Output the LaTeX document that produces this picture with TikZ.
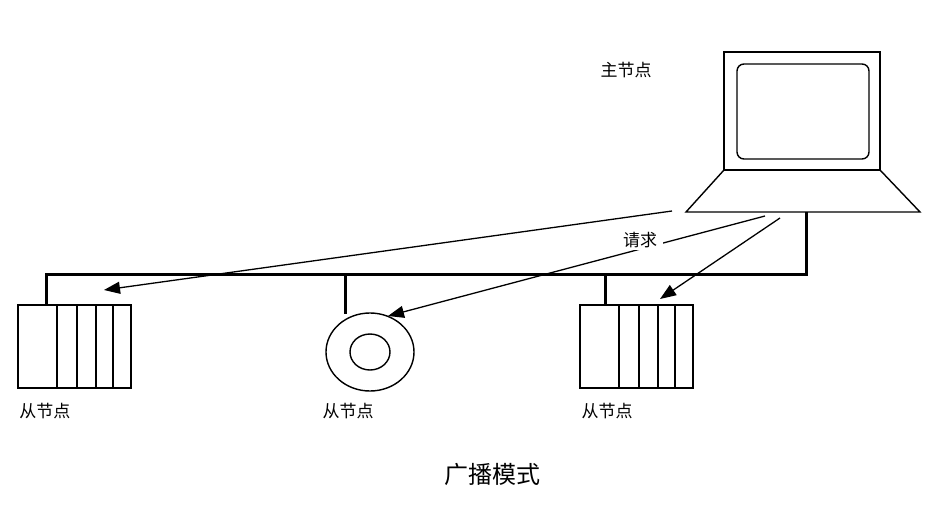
\documentclass[tikz,border=0pt]{standalone}
\usepackage{fontspec}
\newfontfamily\cjk{Noto Sans CJK SC}
\usetikzlibrary{arrows.meta}
\begin{document}
\begin{tikzpicture}[x=1pt,y=-1pt,
  line/.style={line width=1.4pt},
  bus/.style={line width=3pt},
  arr/.style={line width=1.3pt,-{Triangle[length=16pt,width=12pt]}},
  lbl/.style={font=\cjk\fontsize{17}{20}\selectfont,inner sep=2pt}]
\useasboundingbox (0,0) rectangle (950,527);
% laptop
\draw[line] (724,52) rectangle (880,170);
\draw[line,rounded corners=7pt] (737,64) rectangle (869,159);
\draw[line] (724,170) -- (880,170) -- (920,212) -- (686,212) -- cycle;
% bus
\coordinate (busL) at (46,274);
\coordinate (busR) at (806,274);
\coordinate (lapB) at (806,212);
\draw[bus] (lapB) -- (busR) -- (busL) -- (46,305);
\draw[bus] (345,274) -- (345,314);
\draw[bus] (605,274) -- (605,305);
% left slave
\draw[line] (18,305) rectangle (131,388);
\foreach \x in {57,77,96,113} \draw[line] (\x,305) -- (\x,388);
% right slave
\draw[line] (580,305) rectangle (693,388);
\foreach \x in {619,639,658,675} \draw[line] (\x,305) -- (\x,388);
% ring
\draw[line] (370,352) ellipse [x radius=44, y radius=39];
\draw[line] (370,352) ellipse [x radius=20, y radius=18];
% arrows
\coordinate (s1) at (672,211); \coordinate (t1) at (104,290);
\coordinate (s2) at (765,216); \coordinate (t2) at (388,316);
\coordinate (s3) at (780,218); \coordinate (t3) at (660,299);
\draw[arr] (s1) -- (t1);
\draw[arr] (s2) -- (t2);
\draw[arr] (s3) -- (t3);
\node[lbl,fill=white,inner xsep=6pt] (req) at (640,240) {请求};
\node[lbl] (master) at (626,70) {主节点};
\node[lbl] (sl1) at (45,411) {从节点};
\node[lbl] (sl2) at (348,411) {从节点};
\node[lbl] (sl3) at (607,411) {从节点};
\node[font=\cjk\fontsize{24}{28}\selectfont] (title) at (492,474) {广播模式};
\end{tikzpicture}
\end{document}
